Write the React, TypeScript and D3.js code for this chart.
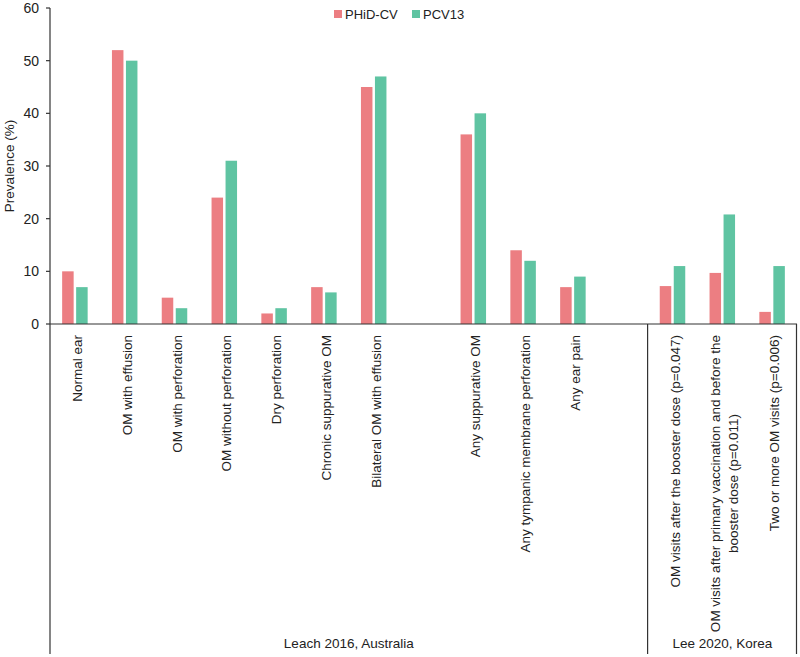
import React from "react";
import * as d3 from "d3";

const categories: string[][] = [
  ["Normal ear"],
  ["OM with effusion"],
  ["OM with perforation"],
  ["OM without perforation"],
  ["Dry perforation"],
  ["Chronic suppurative OM"],
  ["Bilateral OM with effusion"],
  [],
  ["Any suppurative OM"],
  ["Any tympanic membrane perforation"],
  ["Any ear pain"],
  [],
  ["OM visits after the booster dose (p=0.047)"],
  ["OM visits after primary vaccination and before the", "booster dose (p=0.011)"],
  ["Two or more OM visits (p=0.006)"],
];
const phid: (number | null)[] = [10, 52, 5, 24, 2, 7, 45, null, 36, 14, 7, null, 7.2, 9.7, 2.3];
const pcv13: (number | null)[] = [7, 50, 3, 31, 3, 6, 47, null, 40, 12, 9, null, 11, 20.8, 11];
const seriesNames = ["PHiD-CV", "PCV13"];
const colors = ["#ec7e82", "#5fc4a2"];
const yTicks = [0, 10, 20, 30, 40, 50, 60];
const groups = [
  { label: "Leach 2016, Australia", from: 0, to: 11 },
  { label: "Lee 2020, Korea", from: 12, to: 14 },
];

const FONT = "'Liberation Sans', Arial, sans-serif";

function measure(text: string, size: number): number {
  const c = document.createElement("canvas");
  const ctx = c.getContext("2d")!;
  ctx.font = `${size}px 'Liberation Sans', Arial, sans-serif`;
  return ctx.measureText(text).width;
}

export default function App() {
  const W = 800, H = 657;
  const left = 50, right = 797, top = 8, bottom = 324;
  const x = d3.scaleBand<number>().domain(d3.range(categories.length)).range([left, right]).padding(0);
  const y = d3.scaleLinear().domain([0, 60]).range([bottom, top]);
  const barW = 11.5, gap = 2.5;
  const labelTop = 335;
  const catSize = 13.5;

  return (
    <svg width={W} height={H} style={{ position: "absolute", left: 0, top: 0, fontFamily: FONT }}>
      <rect width={W} height={H} fill="#fff" />
      {/* bars */}
      {[phid, pcv13].map((ser, si) =>
        ser.map((v, i) => {
          if (v == null) return null;
          const cx = x(i)! + x.bandwidth() / 2;
          const bx = si === 0 ? cx - gap / 2 - barW : cx + gap / 2;
          return <rect key={`${si}-${i}`} x={bx} y={y(v)} width={barW} height={y(0) - y(v)} fill={colors[si]} />;
        })
      )}
      {/* y axis */}
      <line x1={left} x2={left} y1={top} y2={654} stroke="#333" strokeWidth={1.2} />
      {yTicks.map((t) => (
        <g key={t}>
          <line x1={left - 4} x2={left} y1={y(t)} y2={y(t)} stroke="#333" strokeWidth={1.2} />
          <text x={left - 11} y={y(t) + 5} textAnchor="end" fontSize={14} fill="#222">{t}</text>
        </g>
      ))}
      <text transform={`translate(14,${(top + bottom) / 2}) rotate(-90)`} textAnchor="middle" fontSize={13.5} fill="#222">
        Prevalence (%)
      </text>
      {/* x axis */}
      <line x1={left} x2={right} y1={bottom} y2={bottom} stroke="#333" strokeWidth={1.2} />
      {[x(12)!, right - 0.5].map((xx, k) => (
        <line key={k} x1={xx} x2={xx} y1={bottom} y2={654} stroke="#333" strokeWidth={1.2} />
      ))}
      {/* category labels */}
      {categories.map((lines, i) => {
        if (!lines.length) return null;
        const cx = x(i)! + x.bandwidth() / 2;
        const lh = 18;
        const maxLen = d3.max(lines, (l) => measure(l, catSize))!;
        const centerY = labelTop + maxLen / 2;
        return lines.map((l, li) => {
          const lx = cx + (li - (lines.length - 1) / 2) * lh + 7;
          return (
            <text key={`${i}-${li}`} transform={`translate(${lx},${centerY}) rotate(-90)`} textAnchor="middle" fontSize={catSize} fill="#222">
              {l}
            </text>
          );
        });
      })}
      {/* group labels */}
      {groups.map((g) => {
        const x0 = x(g.from)!;
        const x1 = g.to === categories.length - 1 ? right : x(g.to)! + x.bandwidth();
        return (
          <text key={g.label} x={(x0 + x1) / 2} y={648} textAnchor="middle" fontSize={13.5} fill="#222">
            {g.label}
          </text>
        );
      })}
      {/* legend */}
      {seriesNames.map((n, i) => {
        const lx = i === 0 ? 334 : 412;
        return (
          <g key={n}>
            <rect x={lx} y={10} width={8} height={8} fill={colors[i]} />
            <text x={lx + 11} y={19} fontSize={13} fill="#222">{n}</text>
          </g>
        );
      })}
    </svg>
  );
}
